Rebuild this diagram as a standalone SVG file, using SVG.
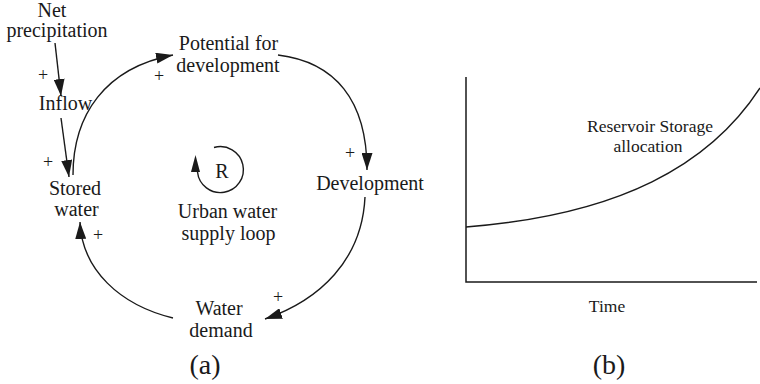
<svg xmlns="http://www.w3.org/2000/svg" width="760" height="384" viewBox="0 0 760 384">
<style>
text{font-family:"Liberation Serif","Times New Roman",serif;fill:#1a1a1a;text-anchor:middle}
.n{font-size:20px}
.p{font-size:18px}
.g{font-size:17.5px}
.cap{font-size:28px}
.c{fill:none;stroke:#1a1a1a;stroke-width:1.4}
.ax{fill:none;stroke:#1a1a1a;stroke-width:1.5}
</style>
<defs>
<marker id="ah" viewBox="0 0 17 11" refX="17" refY="5.5" markerWidth="17" markerHeight="11" orient="auto" markerUnits="userSpaceOnUse">
<path d="M0,0 L17,5.5 L0,11 z" fill="#1a1a1a"/>
</marker>
</defs>
<rect width="760" height="384" fill="#fff"/>
<g id="connectors">
<path class="c" d="M55,43 L61,96" marker-end="url(#ah)"/>
<path class="c" d="M61,118 L69,177" marker-end="url(#ah)"/>
<path class="c" d="M73,175 C73,115 105,68 173,55" marker-end="url(#ah)"/>
<path class="c" d="M278,55 C335,62 367,100 367,170" marker-end="url(#ah)"/>
<path class="c" d="M365,197 C362,260 320,300 265,319" marker-end="url(#ah)"/>
<path class="c" d="M173,318 C120,305 82,270 80,222" marker-end="url(#ah)"/>
</g>
<g id="signs">
<text class="p" x="43" y="81">+</text>
<text class="p" x="48" y="168">+</text>
<text class="p" x="159" y="82">+</text>
<text class="p" x="350" y="159">+</text>
<text class="p" x="278" y="303">+</text>
<text class="p" x="98" y="241">+</text>
</g>
<g id="net-precipitation"><text class="n" x="52" y="17">Net</text><text class="n" x="57" y="37">precipitation</text></g>
<g id="inflow"><text class="n" x="65.5" y="110">Inflow</text></g>
<g id="stored-water"><text class="n" x="75" y="195">Stored</text><text class="n" x="76.5" y="216">water</text></g>
<g id="potential"><text class="n" x="228.5" y="50">Potential for</text><text class="n" x="228" y="72">development</text></g>
<g id="development"><text class="n" x="370" y="190">Development</text></g>
<g id="water-demand"><text class="n" x="219" y="315">Water</text><text class="n" x="221" y="337">demand</text></g>
<g id="loop">
<path class="c" d="M214,147.5 A23,23 0 1 1 197.5,172"/>
<path d="M195.5,155 L191,172 L200,172 z" fill="#1a1a1a"/>
<text class="n" x="222" y="177.5">R</text>
<text class="n" x="227.5" y="218">Urban water</text>
<text class="n" x="228.5" y="240">supply loop</text>
</g>
<g id="label-a"><text class="cap" x="205" y="374">(a)</text></g>
<g id="graph">
<path class="ax" d="M466,77 L466,282 L757,282"/>
<path class="c" d="M466,227 C620,215 710,165 760,88"/>
<text class="g" x="650" y="132">Reservoir Storage</text>
<text class="g" x="648" y="152">allocation</text>
<text class="g" x="607" y="312">Time</text>
</g>
<g id="label-b"><text class="cap" x="609" y="374">(b)</text></g>
</svg>
